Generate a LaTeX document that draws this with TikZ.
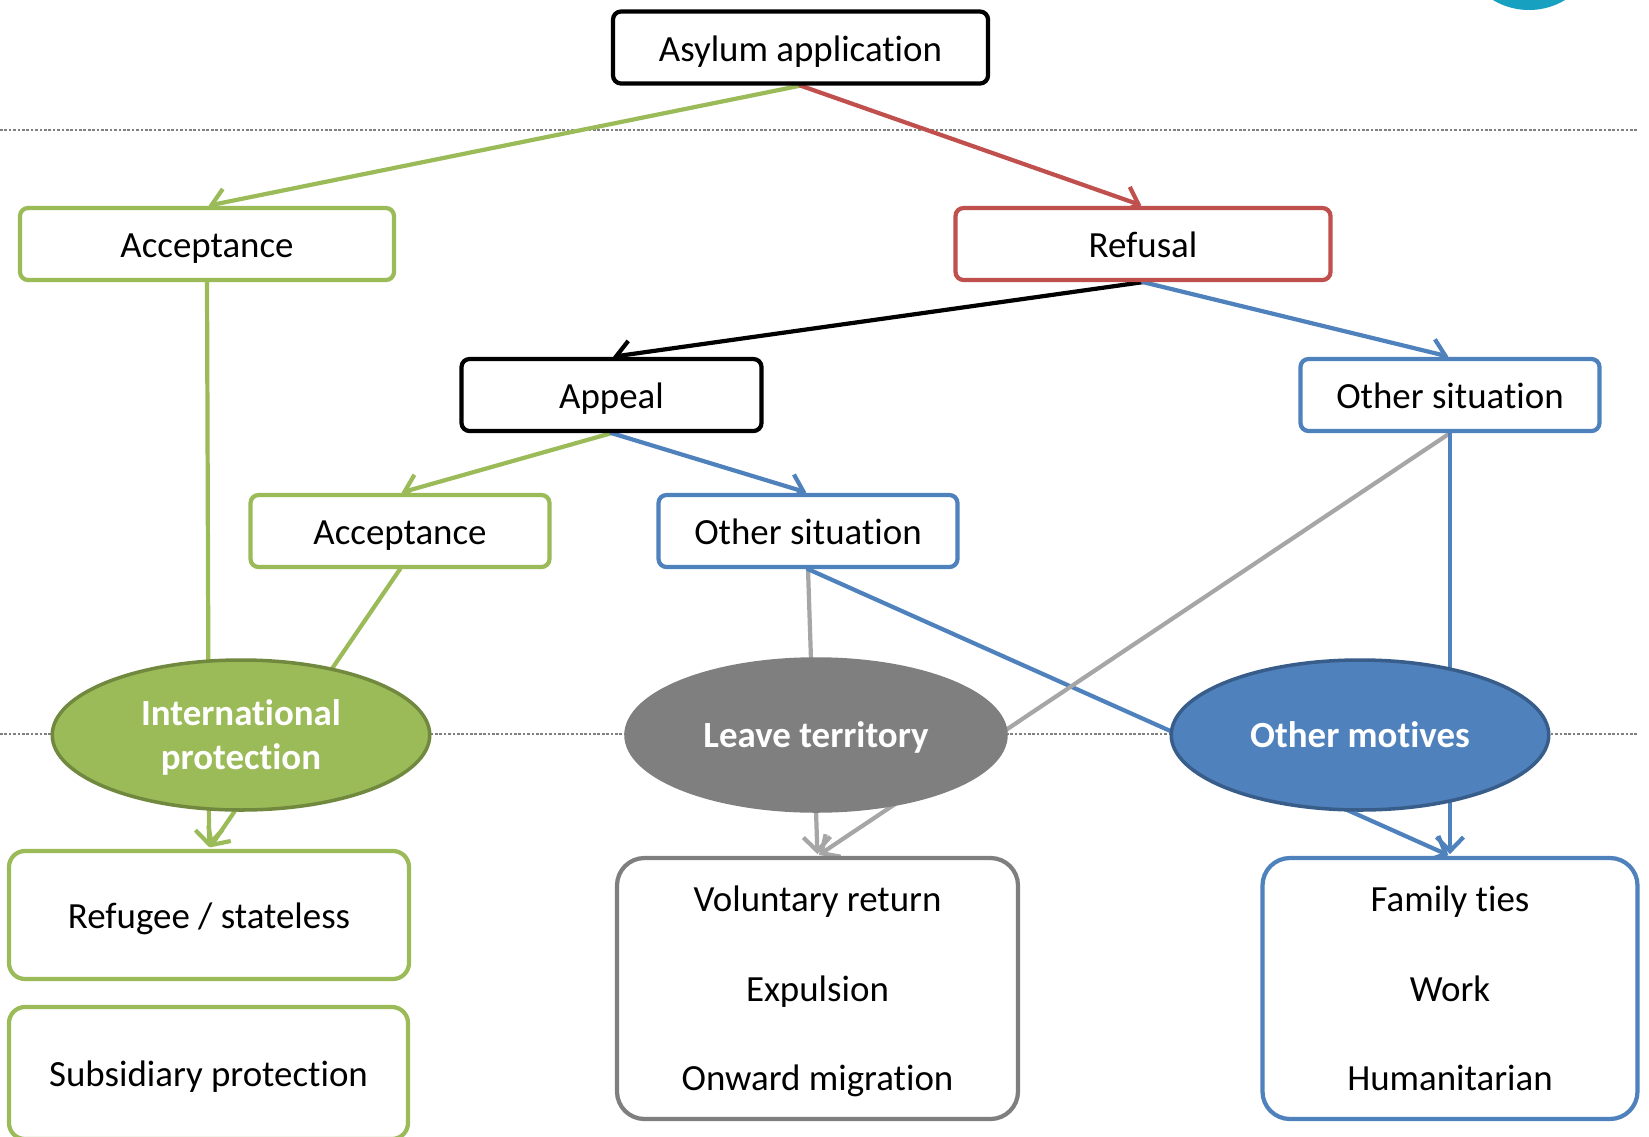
\documentclass[tikz,border=0pt]{standalone}
\usepackage{fontspec}
\setmainfont{Carlito}[Ligatures=NoCommon]
\usepackage{tikz}
\usetikzlibrary{arrows.meta,shapes.geometric,backgrounds,calc}

\definecolor{accgreen}{HTML}{9BBB59}
\definecolor{accgreendark}{HTML}{71893F}
\definecolor{refred}{HTML}{C0504D}
\definecolor{othblue}{HTML}{4F81BD}
\definecolor{othbluedark}{HTML}{385D8A}
\definecolor{leavegray}{HTML}{7F7F7F}
\definecolor{linegray}{HTML}{A6A6A6}
\definecolor{cornerteal}{HTML}{17A0BF}

\begin{document}
\begin{tikzpicture}[->,>={Straight Barb[length=2.8mm,width=5.4mm]},shorten >=1pt,
   line width=2.4pt, line cap=round, font=\fontsize{21}{25}\selectfont,
   box/.style={draw, fill=white, rounded corners=1.6mm, minimum height=1.44cm, inner sep=0pt,
     text height=0.62cm, text depth=0.08cm},
   bigbox/.style={draw, fill=white, rounded corners=5.5mm, minimum height=5.22cm, align=center,
     inner sep=0pt, text depth=0pt},
   outcome/.style={ellipse, draw, inner sep=0pt, line width=2pt, text=white, align=center,
     font=\fontsize{21}{25}\selectfont\bfseries, text depth=0pt, minimum width=7.55cm, minimum height=3cm},
   flow/.style={line width=2.4pt, line cap=round},
   rule/.style={-, line width=0.6pt, gray, dash pattern=on 1.5pt off 1pt, line cap=butt}]
  \useasboundingbox (0,0) rectangle (32.98,-22.74);
  \begin{scope}
    \clip (0,0) rectangle (32.98,-22.74);
    \fill[cornerteal] (30.58,1.2) circle (1.4);
  \end{scope}
  % first decision
  \node[box, minimum width=7.5cm] (asylum) at (16.01,-0.95) {Asylum application};
  \node[box, draw=accgreen, minimum width=7.48cm] (acc1) at (4.14,-4.88) {Acceptance};
  \node[box, draw=refred, minimum width=7.5cm] (refusal) at (22.86,-4.88) {Refusal};
  % after refusal
  \node[box, minimum width=6cm] (appeal) at (12.23,-7.90) {Appeal};
  \node[box, draw=othblue, minimum width=5.98cm] (other1) at (29.0,-7.90) {Other situation};
  \node[box, draw=accgreen, minimum width=5.98cm] (acc2) at (8.0,-10.62) {Acceptance};
  \node[box, draw=othblue, minimum width=5.98cm] (other2) at (16.16,-10.62) {Other situation};
  % outcomes
  \node[outcome, fill=accgreen, draw=accgreendark] (intprot) at (4.82,-14.70) {International\\protection};
  \node[outcome, fill=leavegray, draw=leavegray, minimum width=7.6cm, minimum height=3.04cm] (leave) at (16.32,-14.70) {Leave territory};
  \node[outcome, fill=othblue, draw=othbluedark] (motives) at (27.20,-14.70) {Other motives};
  % statuses
  \node[box, draw=accgreen, rounded corners=3.2mm, minimum width=8cm, minimum height=2.56cm] (refugee) at (4.18,-18.30) {Refugee / stateless};
  \node[box, draw=accgreen, rounded corners=3.2mm, minimum width=7.98cm, minimum height=2.64cm] (subsid) at (4.17,-21.46) {Subsidiary protection};
  \node[bigbox, draw=leavegray, minimum width=8.02cm] (leavebox) at (16.35,-19.77) {Voluntary return\\[0.91cm]Expulsion\\[0.91cm]Onward migration};
  \node[bigbox, draw=othblue, minimum width=7.5cm] (motivebox) at (29.0,-19.77) {Family ties\\[0.91cm]Work\\[0.91cm]Humanitarian};

  \begin{scope}[on background layer]
    \draw[rule] (0,-2.60) -- (32.8,-2.60);
    \draw[rule] (0,-14.68) -- (32.8,-14.68);
    \draw[flow, accgreen] (asylum.south) -- (acc1.north);
    \draw[flow, refred] (asylum.south) -- (refusal.north);
    \draw[flow, black] (refusal.south) -- (appeal.north);
    \draw[flow, othblue] (refusal.south) -- (other1.north);
    \draw[flow, accgreen] (appeal.south) -- (acc2.north);
    \draw[flow, othblue] (appeal.south) -- (other2.north);
    \draw[flow, accgreen] (acc1.south) -- (refugee.north);
    \draw[flow, accgreen] (acc2.south) -- (refugee.north);
    \draw[flow, linegray] (other2.south) -- (leavebox.north);
    \draw[flow, othblue] (other2.south) -- (motivebox.north);
    \draw[flow, linegray] (other1.south) -- (leavebox.north);
    \draw[flow, othblue] (other1.south) -- (motivebox.north);
  \end{scope}
\end{tikzpicture}
\end{document}
